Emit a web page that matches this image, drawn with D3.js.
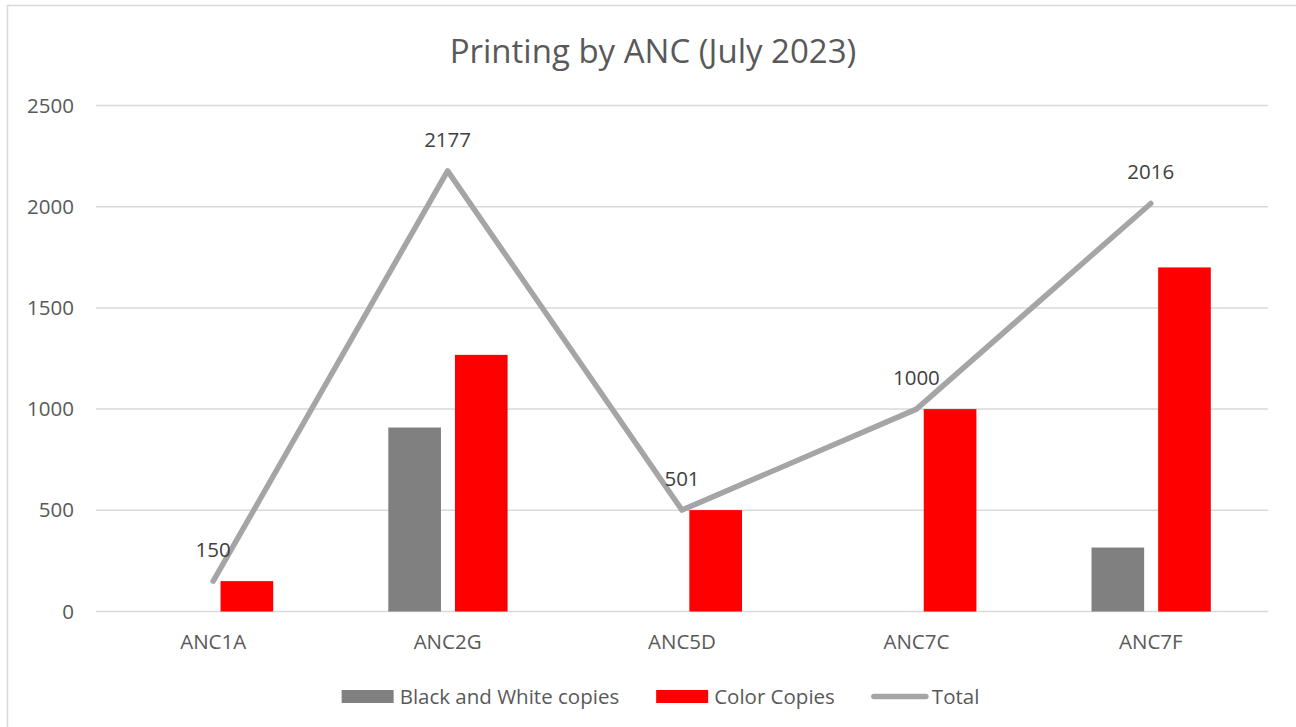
<!DOCTYPE html>
<html>
<head>
<meta charset="utf-8">
<script src="https://cdn.jsdelivr.net/npm/d3@7"></script>
<style>
  html, body { margin: 0; padding: 0; background: #fff; }
  svg { display: block; font-family: "Open Sans", "Liberation Sans", sans-serif; }
</style>
</head>
<body>
<svg id="chart" width="1296" height="727"></svg>
<script>
// data
const categories = ["ANC1A", "ANC2G", "ANC5D", "ANC7C", "ANC7F"];
const bwCopies = [0, 909, 0, 0, 316];
const colorCopies = [150, 1268, 501, 1000, 1700];
const totals = [150, 2177, 501, 1000, 2016];
const yTicks = [0, 500, 1000, 1500, 2000, 2500];
const seriesNames = ["Black and White copies", "Color Copies", "Total"];

const width = 1296, height = 727;
const plot = { left: 96, right: 1268, top: 105.5, bottom: 611.5 };
const fs = "20.5px";

const svg = d3.select("#chart");

// chart frame
svg.append("rect")
  .attr("x", 7.5).attr("y", 5.5)
  .attr("width", width + 10).attr("height", height + 10)
  .attr("fill", "#fff").attr("stroke", "#d9d9d9").attr("stroke-width", 1.5);

// title
svg.append("text")
  .attr("x", 653).attr("y", 63)
  .attr("text-anchor", "middle")
  .attr("fill", "#595959")
  .style("font-size", "33px")
  .text("Printing by ANC (July 2023)");

const x0 = d3.scaleBand().domain(categories).range([plot.left, plot.right]);
const cw = x0.bandwidth();
const x1 = d3.scaleBand().domain(["bw", "color"])
  .range([cw / 2 - 59.3, cw / 2 + 60]).paddingInner(0.21);
const y = d3.scaleLinear().domain([0, 2500]).range([plot.bottom, plot.top]);

// gridlines
svg.append("g")
  .selectAll("line")
  .data(yTicks)
  .join("line")
  .attr("x1", plot.left).attr("x2", plot.right)
  .attr("y1", d => y(d)).attr("y2", d => y(d))
  .attr("stroke", "#d9d9d9").attr("stroke-width", 1.5);

// y axis labels
const yAxis = svg.append("g")
  .attr("transform", `translate(${plot.left},0)`)
  .call(d3.axisLeft(y).tickValues(yTicks).tickFormat(d3.format("d")).tickSize(0).tickPadding(22));
yAxis.select(".domain").remove();
yAxis.selectAll("text")
  .attr("fill", "#595959")
  .style("font-size", fs)
  .style("font-family", "'Open Sans', sans-serif");

// x axis labels
const xAxis = svg.append("g")
  .attr("transform", `translate(0,${plot.bottom})`)
  .call(d3.axisBottom(x0).tickSize(0).tickPadding(23));
xAxis.select(".domain").remove();
xAxis.selectAll("text")
  .attr("fill", "#595959")
  .style("font-size", fs)
  .style("font-family", "'Open Sans', sans-serif");

// bars
const rows = categories.map((c, i) => ({ cat: c, bw: bwCopies[i], color: colorCopies[i], total: totals[i] }));
const barColors = { bw: "#808080", color: "#ff0000" };

const groups = svg.append("g")
  .selectAll("g")
  .data(rows)
  .join("g")
  .attr("transform", d => `translate(${x0(d.cat)},0)`);

groups.selectAll("rect")
  .data(d => ["bw", "color"].map(k => ({ key: k, value: d[k] })))
  .join("rect")
  .attr("x", d => x1(d.key))
  .attr("width", x1.bandwidth())
  .attr("y", d => y(d.value))
  .attr("height", d => y(0) - y(d.value))
  .attr("fill", d => barColors[d.key]);

// total line
const line = d3.line()
  .x(d => x0(d.cat) + cw / 2)
  .y(d => y(d.total));

svg.append("path")
  .datum(rows)
  .attr("d", line)
  .attr("fill", "none")
  .attr("stroke", "#a5a5a5")
  .attr("stroke-width", 5.5)
  .attr("stroke-linecap", "round")
  .attr("stroke-linejoin", "round");

// data labels for total
svg.append("g")
  .selectAll("text")
  .data(rows)
  .join("text")
  .attr("x", d => x0(d.cat) + cw / 2)
  .attr("y", d => y(d.total) - 24)
  .attr("text-anchor", "middle")
  .attr("fill", "#404040")
  .style("font-size", fs)
  .text(d => d.total);

// legend
const legend = svg.append("g");
const items = legend.selectAll("g")
  .data(seriesNames)
  .join("g");

items.each(function (name, i) {
  const g = d3.select(this);
  if (i < 2) {
    g.append("rect")
      .attr("x", 0).attr("y", -6.5)
      .attr("width", 52).attr("height", 13)
      .attr("fill", i === 0 ? barColors.bw : barColors.color);
  } else {
    g.append("line")
      .attr("x1", 2).attr("x2", 54)
      .attr("y1", 0).attr("y2", 0)
      .attr("stroke", "#a5a5a5").attr("stroke-width", 5.5)
      .attr("stroke-linecap", "round");
  }
  g.append("text")
    .attr("x", i < 2 ? 58 : 60)
    .attr("y", 7.5)
    .attr("fill", "#595959")
    .style("font-size", fs)
    .text(name);
});

const widths = [];
items.each(function () {
  widths.push(this.getBBox().width);
});
const spacing = 37;
const totalW = d3.sum(widths) + spacing * (widths.length - 1);
let cx = 659.5 - totalW / 2;
items.attr("transform", (d, i) => {
  const t = `translate(${cx},696.5)`;
  cx += widths[i] + spacing;
  return t;
});
</script>
</body>
</html>
